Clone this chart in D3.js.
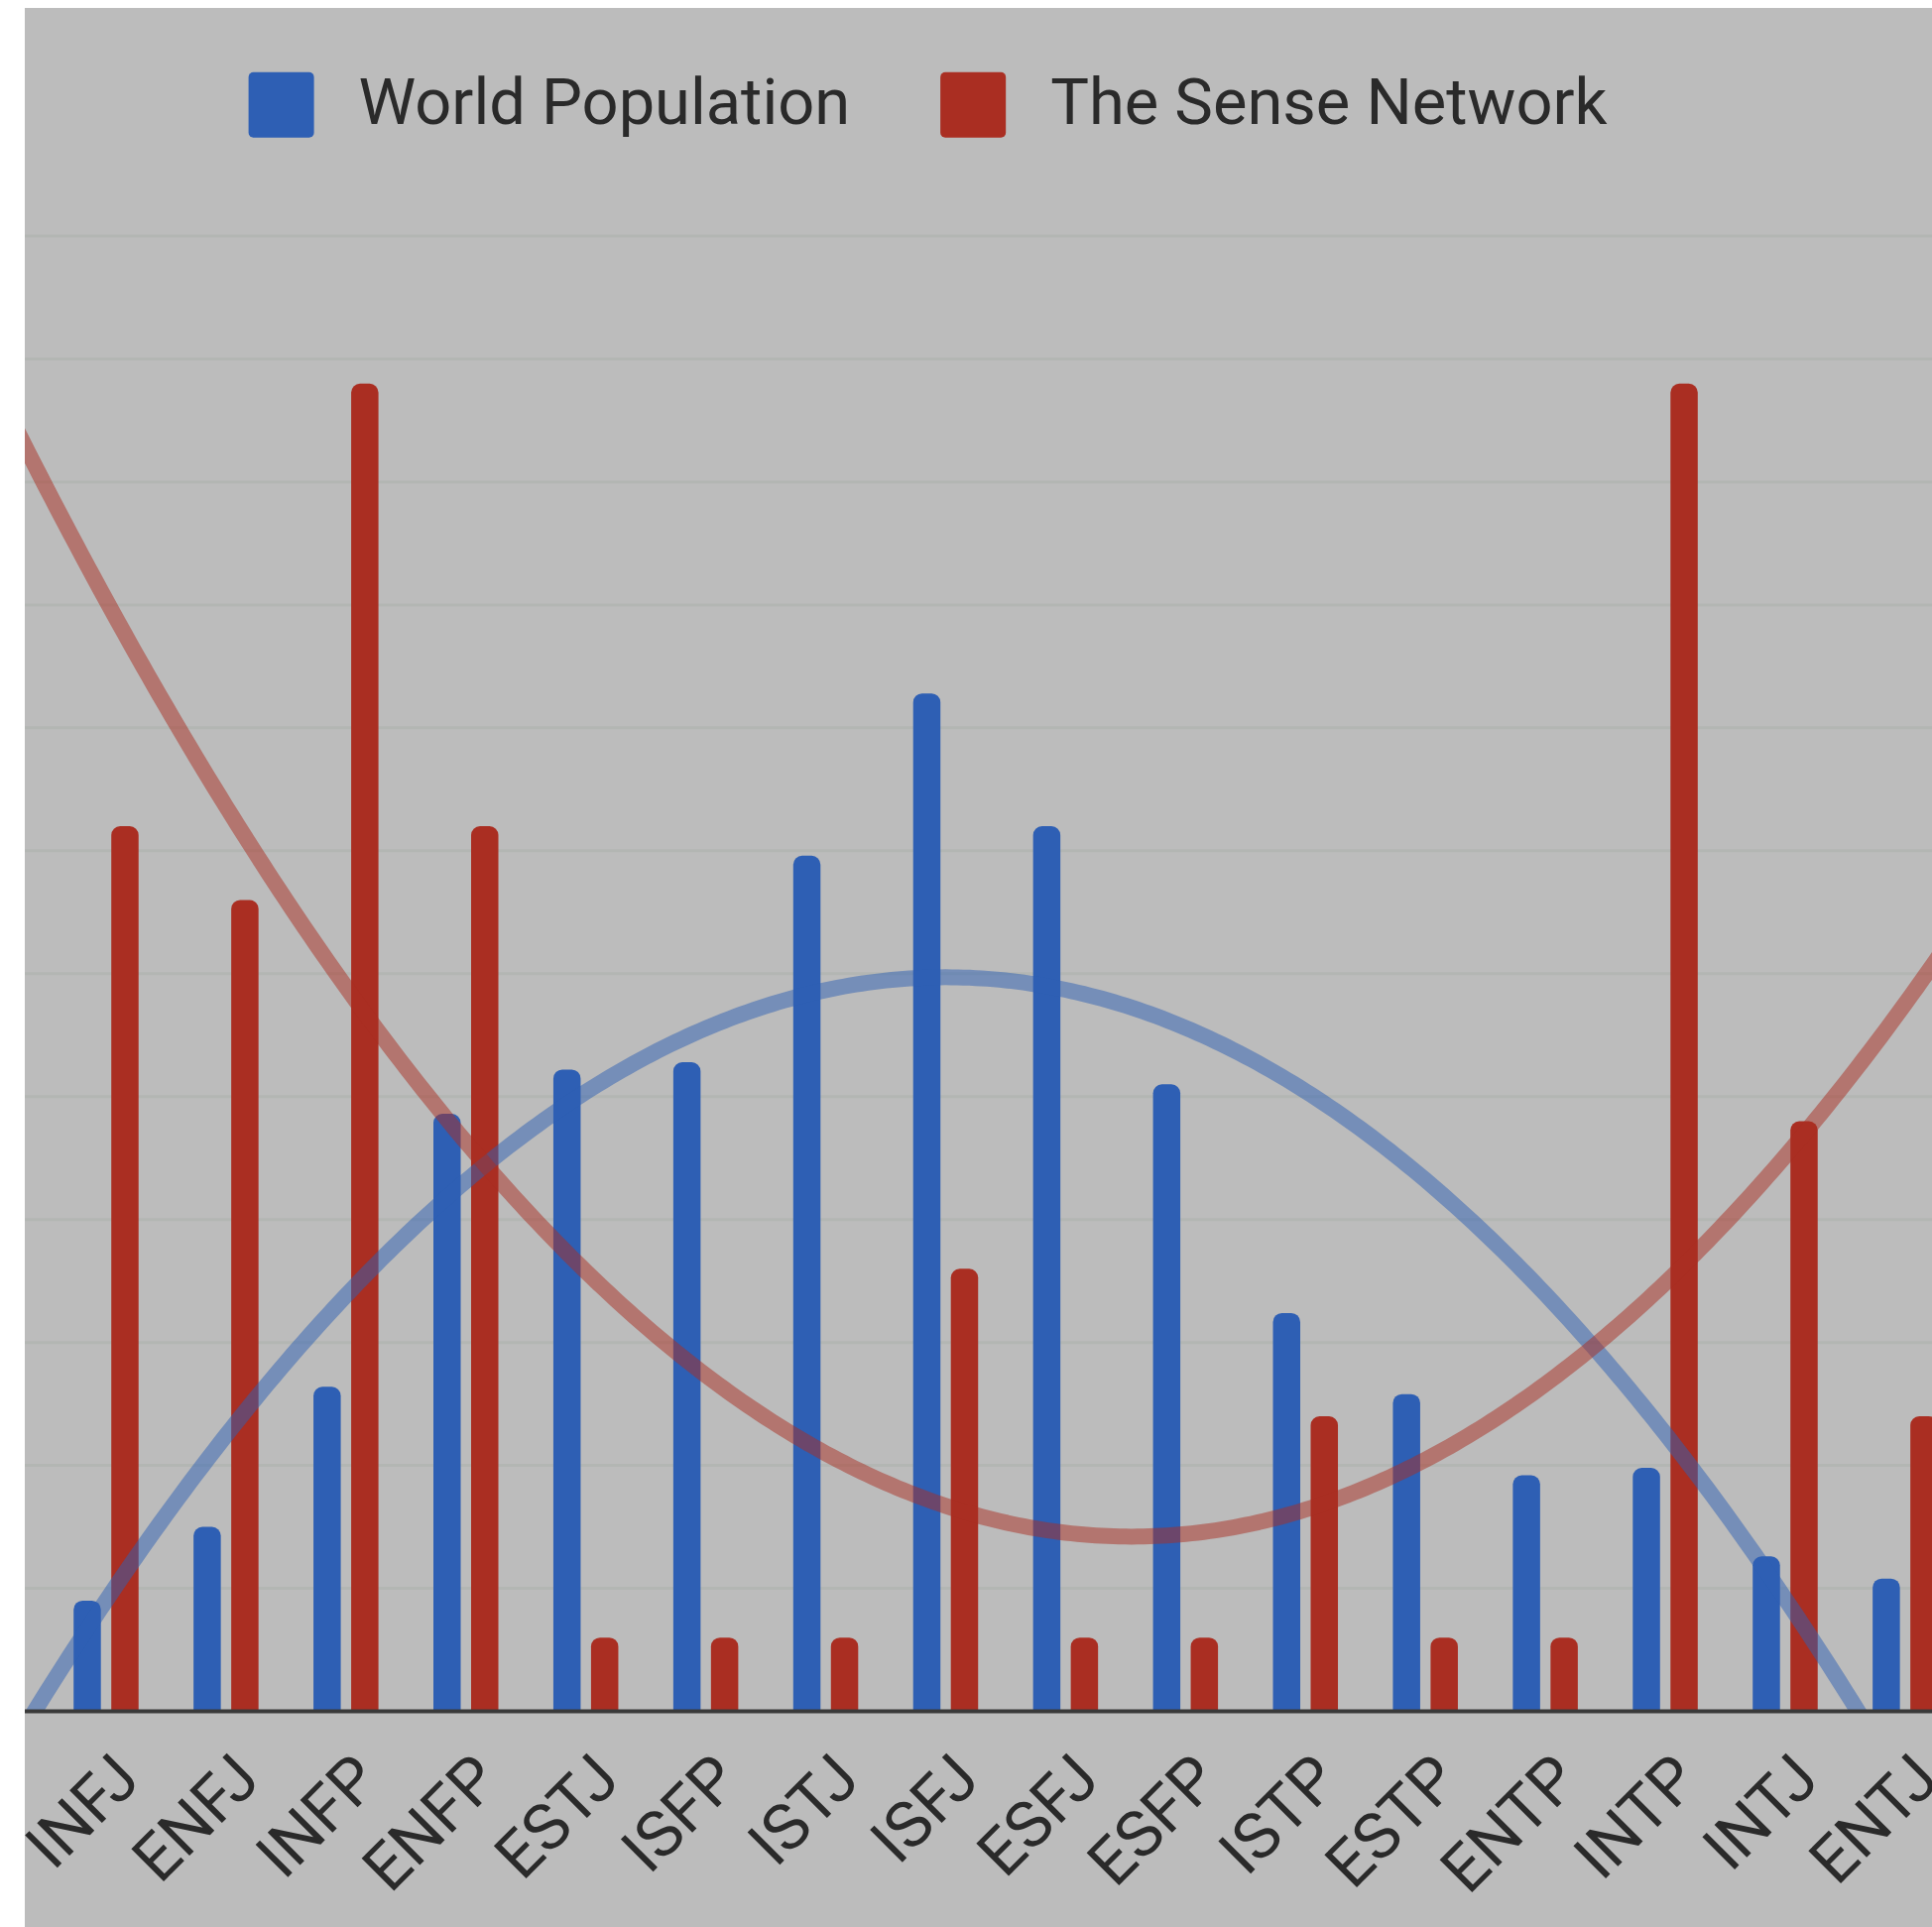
<!DOCTYPE html>
<html lang="en">
<head>
<meta charset="UTF-8">
<title>MBTI distribution</title>
<script src="https://d3js.org/d3.v7.min.js"></script>
<style>
  body { margin: 0; background: #fff; }
  svg { font-family: Roboto, sans-serif; display: block; }
</style>
</head>
<body>
<svg></svg>
<script>
const types = ['INFJ', 'ENFJ', 'INFP', 'ENFP', 'ESTJ', 'ISFP', 'ISTJ', 'ISFJ',
               'ESFJ', 'ESFP', 'ISTP', 'ESTP', 'ENTP', 'INTP', 'INTJ', 'ENTJ'];
const worldPopulation = [1.5, 2.5, 4.4, 8.1, 8.7, 8.8, 11.6, 13.8, 12.0, 8.5, 5.4, 4.3, 3.2, 3.3, 2.1, 1.8];
const senseNetwork = [12, 11, 18, 12, 1, 1, 1, 6, 1, 1, 4, 1, 1, 18, 8, 4];
const seriesNames = ['World Population', 'The Sense Network'];
const seriesValues = [worldPopulation, senseNetwork];
const colors = ['#2e5fb4', '#aa2e22'];

const width = 1948, height = 1943;
const bgLeft = 25, bgTop = 8;
const plotTop = 238, plotBottom = 1725.5;
const yMax = 20, gridCount = 12;

const svg = d3.select('svg').attr('width', width).attr('height', height);

svg.append('rect')
    .attr('x', bgLeft).attr('y', bgTop)
    .attr('width', width - bgLeft).attr('height', height - bgTop)
    .attr('fill', '#bcbcbc');

const step = 120.93;
const x = d3.scaleBand().domain(types).range([46.5, 46.5 + types.length * step]);
const xSub = d3.scaleBand().domain(seriesNames)
    .range([x.bandwidth() / 2 - 32.75, x.bandwidth() / 2 + 32.75])
    .paddingInner(0.2763);
const y = d3.scaleLinear().domain([0, yMax]).range([plotBottom, plotTop]);

// gridlines
const gridValues = d3.range(1, gridCount + 1).map(k => k * yMax / gridCount);
svg.append('g').selectAll('line')
    .data(gridValues)
    .enter().append('line')
    .attr('x1', bgLeft).attr('x2', width)
    .attr('y1', d => y(d)).attr('y2', d => y(d))
    .attr('stroke', '#b3b6b3')
    .attr('stroke-width', 3);

// bars with rounded tops
function barPath(x0, w, yTop, yBase, r) {
    r = Math.min(r, w / 2, yBase - yTop);
    return `M${x0},${yBase}V${yTop + r}A${r},${r} 0 0 1 ${x0 + r},${yTop}` +
           `H${x0 + w - r}A${r},${r} 0 0 1 ${x0 + w},${yTop + r}V${yBase}Z`;
}

const barData = types.flatMap((t, i) => seriesNames.map((s, j) => ({
    type: t, series: s, value: seriesValues[j][i], color: colors[j]
})));

svg.append('g').selectAll('path')
    .data(barData)
    .enter().append('path')
    .attr('d', d => barPath(x(d.type) + xSub(d.series), xSub.bandwidth(), y(d.value), y(0), 9))
    .attr('fill', d => d.color);

// quadratic trendlines (least squares)
function polyfit2(xs, ys) {
    const s = [0, 0, 0, 0, 0], t = [0, 0, 0];
    xs.forEach((xv, i) => {
        for (let k = 0; k < 5; k++) s[k] += Math.pow(xv, k);
        for (let k = 0; k < 3; k++) t[k] += Math.pow(xv, k) * ys[i];
    });
    const m = [[s[0], s[1], s[2], t[0]], [s[1], s[2], s[3], t[1]], [s[2], s[3], s[4], t[2]]];
    for (let c = 0; c < 3; c++) {
        for (let r = c + 1; r < 3; r++) {
            const f = m[r][c] / m[c][c];
            for (let k = c; k < 4; k++) m[r][k] -= f * m[c][k];
        }
    }
    const coef = [0, 0, 0];
    for (let r = 2; r >= 0; r--) {
        let v = m[r][3];
        for (let k = r + 1; k < 3; k++) v -= m[r][k] * coef[k];
        coef[r] = v / m[r][r];
    }
    return v => coef[0] + coef[1] * v + coef[2] * v * v;
}

const idx = types.map((d, i) => i);
const xIdx = d3.scaleLinear().domain([0, 1])
    .range([x(types[0]) + x.bandwidth() / 2, x(types[0]) + x.bandwidth() / 2 + x.step()]);

svg.append('clipPath').attr('id', 'plot-clip')
    .append('rect')
    .attr('x', bgLeft).attr('y', bgTop)
    .attr('width', width - bgLeft).attr('height', plotBottom - bgTop);

const samples = d3.range(-1, types.length + 0.5, 0.05);
const trendLine = d3.line().x(d => xIdx(d[0])).y(d => y(d[1]));

svg.append('g').attr('clip-path', 'url(#plot-clip)')
    .selectAll('path')
    .data(seriesValues.map((vals, j) => {
        const f = polyfit2(idx, vals);
        return { color: colors[j], pts: samples.map(v => [v, f(v)]) };
    }))
    .enter().append('path')
    .attr('d', d => trendLine(d.pts))
    .attr('fill', 'none')
    .attr('stroke', d => d.color)
    .attr('stroke-opacity', 0.5)
    .attr('stroke-width', 16);

// baseline
svg.append('line')
    .attr('x1', bgLeft).attr('x2', width)
    .attr('y1', y(0)).attr('y2', y(0))
    .attr('stroke', '#3a3a3a')
    .attr('stroke-width', 4);

// slanted category labels
svg.append('g').selectAll('text')
    .data(types)
    .enter().append('text')
    .attr('transform', d => `translate(${x(d) + x.bandwidth() / 2 + 37},1797) rotate(-45)`)
    .attr('text-anchor', 'end')
    .attr('font-size', 65)
    .attr('fill', '#2a2a2a')
    .text(d => d);

// legend
const legend = svg.append('g');
let lx = 250.6;
seriesNames.forEach((name, j) => {
    legend.append('rect')
        .attr('x', lx).attr('y', 72.7)
        .attr('width', 66).attr('height', 66)
        .attr('rx', 5)
        .attr('fill', colors[j]);
    const label = legend.append('text')
        .attr('x', lx + 111).attr('y', 124.5)
        .attr('font-size', 65)
        .attr('fill', '#2a2a2a')
        .text(name);
    lx += 111 + label.node().getComputedTextLength() + 91;
});
</script>
</body>
</html>
